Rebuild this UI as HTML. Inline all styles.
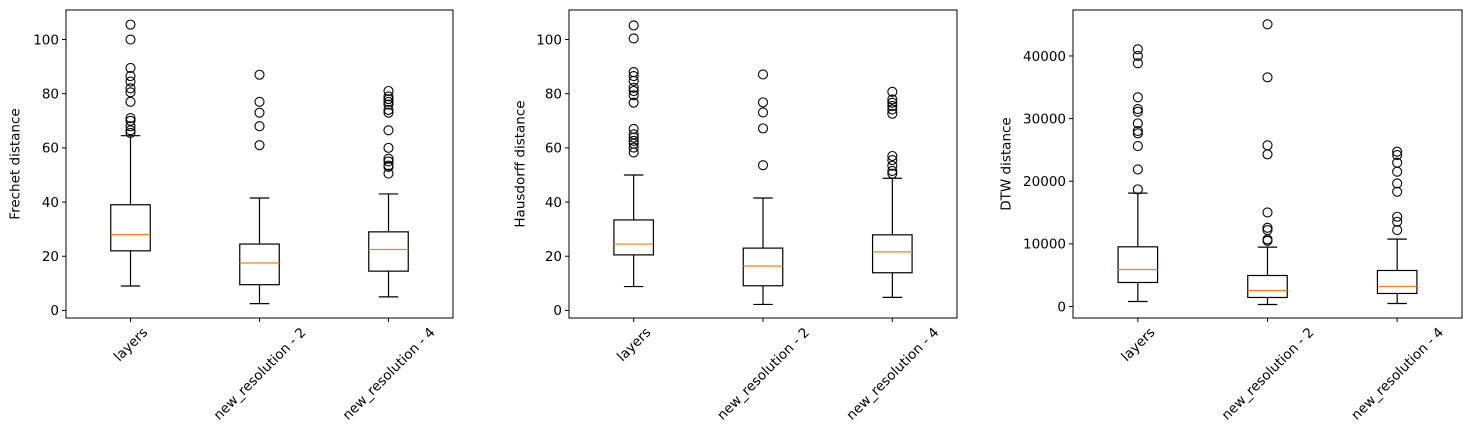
<!DOCTYPE html>
<html><head><meta charset="utf-8"><style>
html,body{margin:0;padding:0;background:#fff;}
svg{display:block;font-family:"DejaVu Sans","Liberation Sans",sans-serif;}
</style></head><body>
<svg id="fig" width="1470" height="437" viewBox="0 0 1470 437"></svg>
<script>
const categories = ["layers", "new_resolution - 2", "new_resolution - 4"];
// Frechet: [whislo, q1, median, q3, whishi]
const frechetStats = [[9,22,28,39,64.5],[2.5,9.5,17.5,24.5,41.5],[5,14.5,22.5,29,43]];
const frechetFliers = [
 [105.5,100,89.5,86.5,84.5,82,80.5,77,71,70,68,66.5,65.5],
 [87,77,73,68,61],
 [81,79,78,77,76,74,73,66.5,60,56,55,53.5,53,50.5]];
const hausStats = [[8.8,20.5,24.5,33.4,50],[2.2,9.1,16.4,23,41.5],[4.8,13.9,21.6,27.9,48.8]];
const hausFliers = [
 [105.2,100.4,88,86.5,84.7,82.2,81,79.4,76.7,67,65,63.8,62.6,61.6,60.1,58.3],
 [87.1,76.8,73.1,67.2,53.6],
 [80.7,77.9,76.7,75.5,74.2,72.6,57,55.5,53.4,51.5,50.5]];
const dtwStats = [[800,3835,5910,9530,18100],[320,1440,2560,4950,9480],[480,2080,3200,5750,10760]];
const dtwFliers = [
 [41070,40000,38830,33400,31530,31100,29240,28020,27640,25620,21890,18700],
 [45060,36590,25730,24290,15020,12570,12200,10700,10490],
 [24710,24180,22960,21520,19650,18320,14330,13530,12200]];
const frechetTicks = [0,20,40,60,80,100];
const hausTicks = [0,20,40,60,80,100];
const dtwTicks = [0,10000,20000,30000,40000];

const NS="http://www.w3.org/2000/svg";
const svgEl=document.getElementById('fig');
function mk(tag,attrs,parent){const e=document.createElementNS(NS,tag);for(const k in attrs)e.setAttribute(k,attrs[k]);(parent||svgEl).appendChild(e);return e;}

const panels=[
 {key:'frechet',left:66,right:453,ymin:-2.8,ymax:110.9,stats:frechetStats,fliers:frechetFliers,ticks:frechetTicks,title:'Frechet distance',tx:15},
 {key:'hausdorff',left:569,right:957,ymin:-2.8,ymax:110.9,stats:hausStats,fliers:hausFliers,ticks:hausTicks,title:'Hausdorff distance',tx:520},
 {key:'dtw',left:1073,right:1462,ymin:-1836,ymax:47340,stats:dtwStats,fliers:dtwFliers,ticks:dtwTicks,title:'DTW distance',tx:1006}
];
const axTop=10,axBottom=318,FS=13.5;
panels.forEach(p=>{
 const g=mk('g',{});
 
 
 const y=v=>axBottom-(v-p.ymin)/(p.ymax-p.ymin)*(axBottom-axTop);
 const x=i=>p.left+(i+1-0.5)/3*(p.right-p.left);
 p.stats.forEach((s,i)=>{
  const cx=x(i),bw=39.5,cw=19.5;
  const bg=mk('g',{},g);
  
  
  mk('line',{x1:cx,x2:cx,y1:y(s[0]),y2:y(s[1]),stroke:'#000','stroke-width':1.2},bg);
  mk('line',{x1:cx,x2:cx,y1:y(s[3]),y2:y(s[4]),stroke:'#000','stroke-width':1.2},bg);
  mk('line',{x1:cx-cw/2,x2:cx+cw/2,y1:y(s[0]),y2:y(s[0]),stroke:'#000','stroke-width':1.2},bg);
  mk('line',{x1:cx-cw/2,x2:cx+cw/2,y1:y(s[4]),y2:y(s[4]),stroke:'#000','stroke-width':1.2},bg);
  mk('rect',{x:cx-bw/2,y:y(s[3]),width:bw,height:y(s[1])-y(s[3]),fill:'none',stroke:'#000','stroke-width':1.2},bg);
  mk('line',{x1:cx-bw/2,x2:cx+bw/2,y1:y(s[2]),y2:y(s[2]),stroke:'#ff7f0e','stroke-width':1.2},bg);
  p.fliers[i].forEach(f=>{
   const c=mk('circle',{cx:cx,cy:y(f),r:4.5,fill:'none',stroke:'#000','stroke-width':1.1},bg);
   
   
  });
 });
 mk('rect',{x:p.left,y:axTop,width:p.right-p.left,height:axBottom-axTop,fill:'none',stroke:'#000','stroke-width':1},g);
 p.ticks.forEach(t=>{
  mk('line',{x1:p.left-4,x2:p.left,y1:y(t),y2:y(t),stroke:'#000','stroke-width':1},g);
  const tx=mk('text',{x:p.left-7,y:y(t)+4.8,'text-anchor':'end','font-size':FS,fill:'#000'},g);
  tx.textContent=t;
  
  
 });
 categories.forEach((c,i)=>{
  const cx=x(i);
  mk('line',{x1:cx,x2:cx,y1:axBottom,y2:axBottom+4,stroke:'#000','stroke-width':1},g);
  const t=mk('text',{x:0,y:0,'text-anchor':'middle','font-size':FS,fill:'#000'},g);
  t.textContent=c;
  
  
  let L=c.length*7.8;
  try{const m=t.getComputedTextLength();if(m>0)L=m;}catch(e){}
  const h=FS;
  const cy=axBottom+7+(L*0.7071+h*0.7071)/2;
  t.setAttribute('transform','translate('+cx+','+cy+') rotate(-45) translate(0,'+(h*0.35)+')');
 });
 const yt=mk('text',{x:0,y:0,'text-anchor':'middle','font-size':FS,fill:'#000',transform:'translate('+(p.tx+4.5)+','+((axTop+axBottom)/2)+') rotate(-90)'},g);
 yt.textContent=p.title;
 
 
});
</script>
</body></html>
